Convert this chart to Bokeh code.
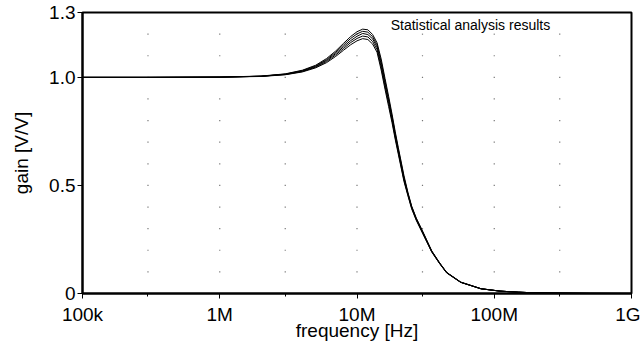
from bokeh.plotting import figure
from bokeh.models import Range1d, FixedTicker, Label
from bokeh.embed import file_html
from bokeh.resources import INLINE

# ---- data ----
freq = [1e5, 3e5, 1e6, 2e6, 3e6, 4e6, 5e6, 6e6, 7e6, 8e6, 9e6, 1e7, 1.1e7, 1.2e7,
        1.3e7, 1.4e7, 1.5e7, 1.6e7, 1.7e7, 1.8e7, 1.9e7, 2e7, 2.2e7, 2.35e7, 2.5e7, 2.7e7,
        3e7, 3.5e7, 4e7, 4.5e7, 5.7e7, 8e7, 1.1e8, 1.5e8, 2e8, 3e8, 5e8, 1e9]

run1 = [1.000, 1.000, 1.001, 1.006, 1.016, 1.033, 1.056, 1.087, 1.122, 1.158, 1.189, 1.211,
        1.223, 1.220, 1.198, 1.160, 1.085, 0.995, 0.912, 0.830, 0.748, 0.675, 0.545, 0.468,
        0.405, 0.350, 0.290, 0.198, 0.142, 0.098, 0.053, 0.022, 0.011, 0.006, 0.003, 0.0015,
        0.0005, 0.0001]
run2 = [1.000, 1.000, 1.001, 1.005, 1.015, 1.031, 1.053, 1.082, 1.116, 1.150, 1.180, 1.201,
        1.213, 1.209, 1.188, 1.150, 1.072, 0.983, 0.900, 0.820, 0.739, 0.667, 0.537, 0.463,
        0.402, 0.347, 0.287, 0.196, 0.141, 0.097, 0.052, 0.022, 0.011, 0.006, 0.003, 0.0015,
        0.0005, 0.0001]
run3 = [1.000, 1.000, 1.001, 1.005, 1.014, 1.029, 1.050, 1.078, 1.110, 1.142, 1.170, 1.190,
        1.203, 1.198, 1.178, 1.140, 1.060, 0.970, 0.890, 0.810, 0.730, 0.660, 0.530, 0.460,
        0.400, 0.345, 0.285, 0.195, 0.140, 0.097, 0.052, 0.022, 0.011, 0.006, 0.003, 0.0015,
        0.0005, 0.0001]
run4 = [1.000, 1.000, 1.001, 1.005, 1.013, 1.027, 1.047, 1.073, 1.104, 1.134, 1.161, 1.180,
        1.191, 1.187, 1.166, 1.128, 1.047, 0.958, 0.878, 0.800, 0.721, 0.652, 0.524, 0.456,
        0.396, 0.342, 0.282, 0.194, 0.139, 0.096, 0.052, 0.022, 0.011, 0.006, 0.003, 0.0015,
        0.0005, 0.0001]
run5 = [1.000, 1.000, 1.001, 1.004, 1.012, 1.025, 1.044, 1.068, 1.097, 1.126, 1.151, 1.169,
        1.179, 1.175, 1.154, 1.116, 1.034, 0.945, 0.865, 0.790, 0.712, 0.644, 0.518, 0.452,
        0.392, 0.339, 0.279, 0.192, 0.138, 0.095, 0.051, 0.022, 0.011, 0.006, 0.003, 0.0015,
        0.0005, 0.0001]
runs = [run1, run2, run3, run4, run5]

x_ticks = [1e5, 1e6, 1e7, 1e8, 1e9]
x_tick_labels = ["100k", "1M", "10M", "100M", "1G"]
x_minor = [3e5, 3e6, 3e7, 3e8]
y_ticks = [0, 0.5, 1.0, 1.3]
y_tick_labels = ["0", "0.5", "1.0", "1.3"]
grid_x = [3e5, 1e6, 3e6, 1e7, 3e7, 1e8, 3e8]
grid_y = [0.1, 0.2, 0.3, 0.4, 0.5, 0.6, 0.7, 0.8, 0.9, 1.0, 1.1, 1.2]

FONT = "Liberation Sans"

p = figure(width=640, height=345, x_axis_type="log",
           x_range=Range1d(1e5, 1e9), y_range=Range1d(0, 1.3),
           output_backend="svg", toolbar_location=None,
           min_border_left=82, min_border_right=9, min_border_top=12, min_border_bottom=52)

p.background_fill_color = "white"
p.border_fill_color = "white"
p.outline_line_color = "black"
p.outline_line_width = 2
p.xgrid.visible = False
p.ygrid.visible = False

# dotted grid (points at intersections)
gx = [x for x in grid_x for y in grid_y]
gy = [y for x in grid_x for y in grid_y]
p.scatter(gx, gy, marker="square", size=1.2, fill_color="#777777", line_color=None)

for r in runs:
    p.line(freq, r, line_color="black", line_width=1)

p.xaxis.ticker = FixedTicker(ticks=x_ticks, minor_ticks=x_minor)
p.xaxis.major_label_overrides = {t: l for t, l in zip(x_ticks, x_tick_labels)}
p.yaxis.ticker = FixedTicker(ticks=y_ticks, minor_ticks=[])
p.yaxis.major_label_overrides = {t: l for t, l in zip(y_ticks, y_tick_labels)}

p.xaxis.axis_label = "frequency [Hz]"
p.yaxis.axis_label = "gain [V/V]"

for ax in (p.xaxis[0], p.yaxis[0]):
    ax.axis_line_color = "black"
    ax.axis_line_width = 2
    ax.major_tick_line_color = "black"
    ax.major_tick_out = 5
    ax.major_tick_in = 0
    ax.minor_tick_line_color = "black"
    ax.minor_tick_out = 3
    ax.minor_tick_in = 0
    ax.major_label_text_font = FONT
    ax.major_label_text_font_size = "19px"
    ax.major_label_text_color = "black"
    ax.axis_label_text_font = FONT
    ax.axis_label_text_font_size = "19px"
    ax.axis_label_text_font_style = "normal"
    ax.axis_label_text_color = "black"

p.xaxis.major_label_standoff = 5
p.xaxis.axis_label_standoff = -8
p.yaxis.major_label_standoff = 2
p.yaxis.axis_label_standoff = 14

p.add_layout(Label(x=1.76e7, y=1.278, text="Statistical analysis results",
                   text_baseline="top", text_align="left", text_font=FONT,
                   text_font_size="14px", text_color="black",
                   background_fill_color="white"))

open("out.html", "w").write(file_html(p, INLINE))
